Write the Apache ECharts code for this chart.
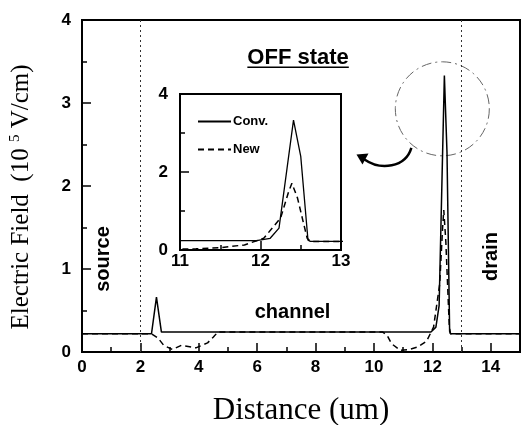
<!DOCTYPE html>
<html>
<head>
<meta charset="utf-8">
<script src="https://cdn.jsdelivr.net/npm/echarts@6/dist/echarts.min.js"></script>
<style>
  html, body { margin: 0; padding: 0; background: #fff; }
  #chart { width: 526px; height: 425px; }
</style>
</head>
<body>
<div id="chart"></div>
<script>
// Electric field along the device, OFF state (x in um, field in 1e5 V/cm)
const convField = [
    [0, 0.22], [2.38, 0.22], [2.55, 0.66], [2.72, 0.24], [11.95, 0.24],
    [12.12, 0.3], [12.23, 0.56], [12.33, 2.1], [12.41, 3.33], [12.5, 2.4],
    [12.59, 0.25], [12.62, 0.22], [15, 0.22]
];
const newField = [
    [0, 0.22], [2.38, 0.22], [2.6, 0.17], [2.8, 0.08], [3.1, 0.03], [3.4, 0.08],
    [3.9, 0.05], [4.3, 0.11], [4.5, 0.18], [4.65, 0.24], [10.3, 0.24], [10.45, 0.2],
    [10.6, 0.1], [10.9, 0.02], [11.2, 0.03], [11.5, 0.06], [11.8, 0.13], [12.04, 0.3],
    [12.25, 0.82], [12.35, 1.5], [12.39, 1.71], [12.46, 1.33], [12.54, 0.64],
    [12.58, 0.3], [12.62, 0.22], [15, 0.22]
];
const regionEdges = [2, 13];          // source / drain junctions
const seriesNames = ['Conv.', 'New'];

const FONT = "'Liberation Sans', Arial, sans-serif";
const SERIF = "'Liberation Serif', 'Times New Roman', serif";
const tickLabel = { color: '#000', fontFamily: FONT, fontSize: 17, fontWeight: 'bold' };

function axisBase(extra) {
    return Object.assign({
        type: 'value',
        axisLine: { show: true, lineStyle: { color: '#000', width: 2 } },
        axisTick: { show: true, inside: true, length: 9, lineStyle: { color: '#000', width: 1.5 } },
        minorTick: { show: true, splitNumber: 2, length: 5, lineStyle: { color: '#000', width: 1.5 } },
        splitLine: { show: false },
    }, extra);
}

const chart = echarts.init(document.getElementById('chart'));
chart.setOption({
    backgroundColor: '#fff',
    animation: false,
    color: ['#000', '#000'],
    grid: [
        { left: 82, top: 20, width: 438, height: 332, show: true, borderColor: '#000', borderWidth: 2, outerBoundsMode: 'none' },
        { left: 180, top: 94, width: 161, height: 156, show: true, borderColor: '#000', borderWidth: 2, backgroundColor: '#fff', z: 5, outerBoundsMode: 'none' },
    ],
    legend: {
        orient: 'vertical', left: 197, top: 115, padding: 0, itemWidth: 33, itemHeight: 8, itemGap: 15,
        data: seriesNames, z: 10,
        itemStyle: { opacity: 0 },
        textStyle: { fontFamily: FONT, fontSize: 13, fontWeight: 'bold', color: '#000', padding: [0, 0, 0, -3] },
    },
    xAxis: [
        axisBase({
            gridIndex: 0, min: 0, max: 15, interval: 2,
            axisLabel: Object.assign({ margin: 7, showMaxLabel: false }, tickLabel),
            name: 'Distance (um)', nameLocation: 'middle', nameGap: 43,
            nameTextStyle: { fontFamily: SERIF, fontSize: 31, color: '#000' },
        }),
        axisBase({
            gridIndex: 1, min: 11, max: 13, interval: 1, z: 6,
            axisLabel: Object.assign({ margin: 3 }, tickLabel),
        }),
    ],
    yAxis: [
        axisBase({
            gridIndex: 0, min: 0, max: 4, interval: 1,
            axisLabel: Object.assign({ margin: 11 }, tickLabel),
            name: 'Electric Field  (10 {sup|5} V/cm)', nameLocation: 'middle', nameGap: 47,
            nameTextStyle: {
                fontFamily: SERIF, fontSize: 25, color: '#000', padding: [0, 22, 0, 0],
                rich: { sup: { fontFamily: SERIF, fontSize: 15, color: '#000', padding: [0, 0, 12, 0] } },
            },
        }),
        axisBase({
            gridIndex: 1, min: 0, max: 4, interval: 2, z: 6,
            axisLabel: Object.assign({ margin: 12 }, tickLabel),
        }),
    ],
    series: [
        {
            name: seriesNames[0], type: 'line', xAxisIndex: 0, yAxisIndex: 0, data: convField,
            symbol: 'none', z: 3, lineStyle: { color: '#000', width: 1.5 },
            markLine: {
                silent: true, symbol: 'none', label: { show: false },
                lineStyle: { color: '#333', width: 1, type: [2, 3] },
                data: regionEdges.map(x => ({ xAxis: x })),
            },
        },
        {
            name: seriesNames[1], type: 'line', xAxisIndex: 0, yAxisIndex: 0, data: newField,
            symbol: 'none', z: 2, lineStyle: { color: '#000', width: 1.5, type: [6, 4] },
        },
        {
            name: seriesNames[0], type: 'line', xAxisIndex: 1, yAxisIndex: 1, data: convField,
            symbol: 'none', z: 7, clip: true, lineStyle: { color: '#000', width: 1.3 },
        },
        {
            name: seriesNames[1], type: 'line', xAxisIndex: 1, yAxisIndex: 1, data: newField,
            symbol: 'none', z: 7, clip: true, lineStyle: { color: '#000', width: 1.5, type: [6, 4] },
        },
    ],
});

// annotations, placed in data coordinates of the main plot
const px = (x, y) => chart.convertToPixel({ gridIndex: 0 }, [x, y]);
const labelFont = (size) => ({ fontFamily: FONT, fontSize: size, fontWeight: 'bold', fill: '#000' });

const offPos = px(7.4, 3.54);
const ctx = document.createElement('canvas').getContext('2d');
ctx.font = 'bold 22px ' + FONT;
const offWidth = ctx.measureText('OFF state').width;

const circ = px(12.34, 2.93);
const arrowStart = px(11.28, 2.46);
const tip = px(9.4, 2.38);

chart.setOption({
    graphic: [
        { type: 'text', x: offPos[0], y: offPos[1], style: Object.assign({ text: 'OFF state', align: 'center', verticalAlign: 'middle' }, labelFont(22)) },
        { type: 'line', shape: { x1: offPos[0] - offWidth / 2, y1: offPos[1] + 9, x2: offPos[0] + offWidth / 2, y2: offPos[1] + 9 }, style: { stroke: '#000', lineWidth: 1.5 } },
        { type: 'text', x: px(7.21, 0.48)[0], y: px(7.21, 0.48)[1], style: Object.assign({ text: 'channel', align: 'center', verticalAlign: 'middle' }, labelFont(20)) },
        { type: 'text', x: px(0.72, 1.12)[0], y: px(0.72, 1.12)[1], rotation: Math.PI / 2, style: Object.assign({ text: 'source', align: 'center', verticalAlign: 'middle' }, labelFont(20)) },
        { type: 'text', x: px(14.02, 1.15)[0], y: px(14.02, 1.15)[1], rotation: Math.PI / 2, style: Object.assign({ text: 'drain', align: 'center', verticalAlign: 'middle' }, labelFont(20)) },
        { type: 'circle', shape: { cx: circ[0], cy: circ[1], r: 47 }, style: { fill: 'none', stroke: '#666', lineWidth: 1, lineDash: [10, 4, 2, 4] } },
        {
            type: 'bezierCurve',
            shape: {
                x1: arrowStart[0], y1: arrowStart[1],
                cpx1: arrowStart[0] - 6, cpy1: arrowStart[1] + 20,
                cpx2: tip[0] + 24, cpy2: tip[1] + 16,
                x2: tip[0] + 8, y2: tip[1] + 5,
            },
            style: { stroke: '#000', lineWidth: 2.5, fill: 'none' },
        },
        {
            type: 'polygon',
            shape: { points: [[tip[0], tip[1]], [tip[0] + 12, tip[1] - 1], [tip[0] + 6, tip[1] + 10]] },
            style: { fill: '#000' },
        },
    ],
});
</script>
</body>
</html>
